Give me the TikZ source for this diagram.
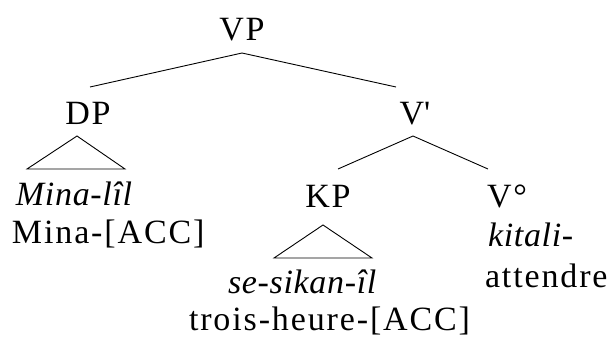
\documentclass[tikz,border=0pt]{standalone}
\usepackage{fontspec}
\setmainfont{Liberation Serif}[LetterSpace=5.5,ItalicFeatures={LetterSpace=2}]
\newfontfamily\tms{Liberation Serif}[LetterSpace=5.5,ItalicFeatures={LetterSpace=2}]
\begin{document}
\begin{tikzpicture}[x=1pt,y=-1pt,
  lab/.style={inner sep=0pt,outer sep=0pt,font=\tms\fontsize{34}{40}\selectfont},
  branch/.style={line width=0.9pt,line join=miter}]
\useasboundingbox (0,0) rectangle (607,338);
% labels
\node[lab,anchor=base] (VP) at (242,40) {VP};
\node[lab,anchor=base] (DP) at (88,124) {DP};
\node[lab,anchor=base] (Vbar) at (415,124) {V\textquotesingle};
\node[lab,anchor=base west] (mina) at (16,205) {\itshape Mina-lîl};
\node[lab,anchor=base west] (minag) at (12,243) {Mina-[ACC]};
\node[lab,anchor=base] (KP) at (328,207) {KP};
\node[lab,anchor=base west] (V0) at (487,207) {V°};
\node[lab,anchor=base west] (kit) at (488,246) {\itshape kitali-};
\node[lab,anchor=base west] (att) at (485,287) {attendre};
\node[lab,anchor=base west] (ses) at (228,293) {\itshape se-sikan-îl};
\node[lab,anchor=base west] (tro) at (189,330) {trois-heure-[ACC]};
% branch points
\coordinate (vpA) at (242,53);
\coordinate (dpT) at (90,87);
\coordinate (vbT) at (396,87);
\coordinate (dpA) at (77,136);
\coordinate (dpL) at (27,169);
\coordinate (dpR) at (125,169);
\coordinate (vbA) at (413,136);
\coordinate (kpT) at (338,169);
\coordinate (v0T) at (488,169);
\coordinate (kpA) at (323,225);
\coordinate (kpL) at (274,258);
\coordinate (kpR) at (372,258);
% connectors
\draw[branch] (dpT) -- (vpA) -- (vbT);
\draw[branch] (kpT) -- (vbA) -- (v0T);
\draw[branch] (dpA) -- (dpL) -- (dpR) -- cycle;
\draw[branch] (kpA) -- (kpL) -- (kpR) -- cycle;
\end{tikzpicture}
\end{document}
